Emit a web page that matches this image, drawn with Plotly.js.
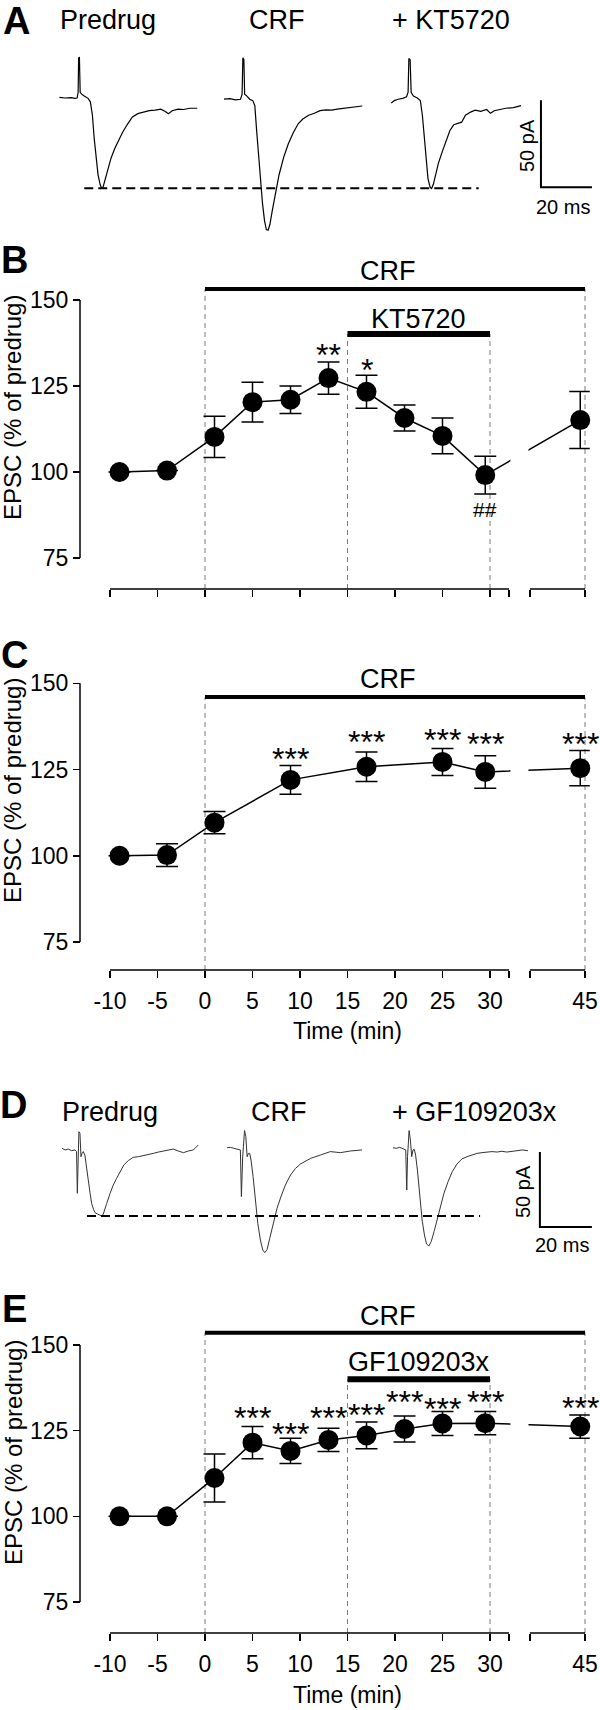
<!DOCTYPE html>
<html>
<head>
<meta charset="utf-8">
<script src="https://cdn.plot.ly/plotly-3.0.1.min.js"></script>
<style>
html,body{margin:0;padding:0;background:#fff;}
#chart{width:600px;height:1710px;}
</style>
</head>
<body>
<div id="chart"></div>
<script>
// ---------------- DATA ----------------
// Panel B: CRF then KT5720
const timeB = [-9, -4, 1, 5, 9, 13, 17, 21, 25, 29.5, 44.5];
const meanB = [100, 100.4, 110.2, 120.3, 121, 127.3, 123.3, 115.7, 110.5, 99.1, 115.1];
const semB  = [null, null, 6, 5.8, 4, 4.7, 4.8, 3.8, 5.2, 5.5, 8.3];
const starTimeB = [13, 17];
const starLevelB = [136, 131.7];
const starTextB = ['**', '*'];
const hashTimeB = [29.5];
const hashLevelB = [89];
const hashTextB = ['##'];

// Panel C: CRF alone
const timeC = [-9, -4, 1, 9, 17, 25, 29.5, 44.5];
const meanC = [100, 100.2, 109.6, 122, 125.8, 127.2, 124.3, 125.4];
const semC  = [null, 3.3, 3.2, 4.2, 4.3, 3.9, 4.7, 5.1];
const starTimeC = [9, 17, 25, 29.5, 44.5];
const starLevelC = [130.1, 135, 135.6, 134.4, 134.4];
const starTextC = ['***', '***', '***', '***', '***'];

// Panel E: CRF then GF109203x
const timeE = [-9, -4, 1, 5, 9, 13, 17, 21, 25, 29.5, 44.5];
const meanE = [100, 100, 111.2, 121.5, 119.1, 122.3, 123.6, 125.5, 127.1, 127.2, 126.2];
const semE  = [null, null, 7, 4.7, 3.7, 3.4, 3.9, 3.8, 3.5, 3.4, 3.4];
const starTimeE = [5, 9, 13, 17, 21, 25, 29.5, 44.5];
const starLevelE = [130.6, 126.1, 130.6, 131.6, 135.4, 133.5, 135.4, 133.7];
const starTextE = ['***', '***', '***', '***', '***', '***', '***', '***'];

// drug application periods (min)
const crfPeriod = [0, 45];
const ktPeriod = [15, 30];
const gfPeriod = [15, 30];

// axis ticks
const xTickTimes = [-10, -5, 0, 5, 10, 15, 20, 25, 30, 45];
const xTickLabels = ['-10', '-5', '0', '5', '10', '15', '20', '25', '30', '45'];
const yTicks = [75, 100, 125, 150];

// Panel A sweeps (time ms from sweep start, current pA)
const predrugA_t = [0.15,2.4,4.7,6.2,7.1,7.5,7.7,8.0,8.3,8.9,9.9,11.4,12.3,13.1,13.8,14.6,15.3,16.1,16.7,17.3,18.0,18.9,20.4,21.9,23.4,24.9,26.7,28.7,30.9,33.2,35.4,37.7,39.9,41.7,42.9,44.4,46.7,48.9,51.2,54.2];
const predrugA_i = [0.4,0,0.2,-0.2,0,3.3,23,23.5,3.3,2.2,1.1,-0.2,-2.2,-9.9,-23.1,-35.2,-44,-49.6,-51.8,-51.1,-47.4,-42.3,-34.6,-28.9,-24,-19.8,-15.4,-11,-9,-8.1,-7.3,-7,-6.4,-7.7,-9,-7.3,-6.4,-6.6,-5.9,-5.9];
const crfA_t = [0,2.3,4.5,6.5,7.1,7.4,7.8,8.1,9.0,10.1,11.3,12.1,12.8,13.6,14.4,15.1,15.9,16.6,17.3,18.0,18.9,20.1,21.6,23.4,25.2,27.2,29.1,30.9,33.2,35.4,37.7,39.9,42.2,44.4,47.4,50.5,54.2];
const crfA_i = [-0.7,-0.4,-1.1,-0.7,2.2,23.1,22,2.2,1.1,-0.7,-1.5,-4.4,-18.7,-34.1,-47.4,-60.6,-70.5,-75.6,-76,-72.7,-65,-55.1,-44.1,-34.1,-26.4,-19.8,-14.8,-12.1,-9.9,-8.8,-7.3,-6.8,-7,-6.4,-5.9,-5.3,-4.6];
const ktA_t = [0.3,1.5,3.0,4.8,6.3,6.9,7.2,7.7,8.1,9.0,10.5,11.7,12.5,13.2,14.0,14.7,15.5,16.1,16.8,17.7,18.8,20.3,21.8,23.3,24.8,26.3,27.9,29.4,31.4,33.2,35.4,37.7,39.2,40.7,43.0,45.2,48.2,51.2];
const ktA_i = [-2.9,-1.5,-0.7,-0.2,0.7,3.3,22.7,22,3.3,1.1,0,-1.5,-9.9,-23.1,-36.3,-46.3,-51.1,-52.2,-49.6,-44,-37.4,-30.8,-25.3,-18.7,-15.4,-14.8,-13.9,-9.9,-8.1,-7,-7.7,-6.6,-8.8,-7.3,-6.6,-5.9,-5.5,-4.4];

// Panel D sweeps
const predrugD_t = [0,1.2,2.4,3.7,5.0,5.6,5.9,6.2,6.5,6.9,7.3,7.7,8.2,8.8,9.5,10.1,10.8,11.4,12.1,12.7,13.6,14.6,15.3,15.9,16.5,17.2,18.5,19.7,21.0,22.3,23.8,25.5,27.4,29.4,31.3,33.2,35.1,37.1,39.0,40.9,42.8,44.7,46.7,48.6,50.5,52.4];
const predrugD_i = [-0.2,-1.3,-0.7,-1.8,-1.3,-2.4,-30.2,-5.8,10.9,9.8,-5.8,-3.6,-2.4,-4.7,-12.4,-21.3,-30.2,-36.9,-40.9,-43.1,-44,-44.7,-45.3,-44,-41.3,-36.9,-30.2,-24.7,-20.2,-15.8,-11.3,-8.4,-6.2,-5.8,-4.9,-4.2,-3.6,-2.7,-2,-0.9,-0.7,-2,-3.1,-2,-1.3,2];
const crfD_t = [0,1.3,2.6,4.1,5.1,5.5,6.0,6.7,7.2,7.7,8.2,8.7,9.2,10.0,10.9,11.8,12.8,13.7,14.5,15.4,16.4,17.7,19.2,20.8,22.4,24.4,26.3,28.2,32.1,35.9,39.7,43.6,47.4,51.9];
const crfD_i = [0.2,0.4,-0.2,-0.9,-1.3,-32.4,-5.8,11.6,7.6,-5.8,-3.6,-3.6,-8,-19.1,-34.7,-50.2,-61.3,-68,-69.8,-67.6,-60.2,-50.2,-40.2,-32,-24.7,-18,-13.6,-10.7,-6.9,-4.7,-2.4,-3.1,-2,-1.3];
const gfD_t = [0,1.3,2.6,4.1,4.9,5.3,5.6,6.2,6.7,7.2,7.7,8.2,8.7,9.4,10.3,11.2,12.1,12.9,13.8,14.7,15.8,16.9,18.2,19.6,21.2,22.8,24.6,26.5,28.5,30.4,32.3,34.2,36.2,38.1,40.0,41.9,43.8,45.8,47.7,49.7,51.9];
const gfD_i = [0.2,-0.2,0.4,-0.9,-1.3,-28,-5.8,11.6,5.3,-5.8,-1.3,-0.9,-4.7,-14.7,-32.4,-48,-58,-64,-65.3,-62.4,-55.8,-48,-39.1,-30.2,-22.4,-15.8,-10.7,-7.3,-5.8,-4.7,-3.6,-3.1,-2.7,-2.4,-2.7,-2.2,-2.7,-2,-1.8,-1.3,-1.8];

// scale bar sizes
const scaleBarMs = 20;
const scaleBarPA = 50;

// ---------------- LAYOUT HELPERS ----------------
const W = 600, H = 1710;
const FONT = "'Liberation Sans', Arial, Helvetica, sans-serif";
const px = v => v / W;
const py = v => 1 - v / H;

// broken time axis: 32 ... 39.2 is cut out
const BREAK_AT = 32, RESUME_AT = 39.2, BREAK_SHIFT = 5;
const disp = t => (t > BREAK_AT ? t - BREAK_SHIFT : t);

const X_DOMAIN_PX = [105.25, 589.75];
const X_RANGE = [-10.5, 40.5];
const Y_AXIS_PX = 80;

const traces = [];
const shapes = [];
const annotations = [];
const layout = {
  width: W, height: H,
  margin: {l: 0, r: 0, t: 0, b: 0, pad: 0},
  paper_bgcolor: '#fff', plot_bgcolor: 'rgba(0,0,0,0)',
  showlegend: false,
  font: {family: FONT, color: '#000', size: 23}
};

function txt(text, x, y, size, opts) {
  return Object.assign({text: text, x: x, y: y, xref: 'paper', yref: 'paper',
    showarrow: false, xanchor: 'center', yanchor: 'middle',
    font: {family: FONT, size: size, color: '#000'}}, opts || {});
}

// ---------------- TIME-COURSE PANELS ----------------
const timePanels = [
  {n: 2, time: timeB, mean: meanB, sem: semB, px150: 300, px75: 558, pxAxis: 589, top: 160,
   showLabels: false, crfLevel: 153.2, crfLabelY: 158.4, titleY: 408,
   inhib: {period: ktPeriod, level: 140.1, label: 'KT5720', labelY: 144.6},
   stars: [[starTimeB, starLevelB, starTextB, 32, -7], [hashTimeB, hashLevelB, hashTextB, 21, 0]]},
  {n: 3, time: timeC, mean: meanC, sem: semC, px150: 683.3, px75: 942, pxAxis: 970, top: 158,
   showLabels: true, crfLevel: 146, crfLabelY: 151.2, titleY: 791, xTitleY: 1031,
   inhib: null,
   stars: [[starTimeC, starLevelC, starTextC, 32, -7]]},
  {n: 5, time: timeE, mean: meanE, sem: semE, px150: 1345, px75: 1602, pxAxis: 1633, top: 162,
   showLabels: true, crfLevel: 153.6, crfLabelY: 158.6, titleY: 1453, xTitleY: 1695,
   inhib: {period: gfPeriod, level: 140, label: 'GF109203x', labelY: 144.9},
   stars: [[starTimeE, starLevelE, starTextE, 32, -7]]}
];

const tickVals = xTickTimes.filter(t => t <= BREAK_AT).concat([BREAK_AT, RESUME_AT], xTickTimes.filter(t => t > BREAK_AT)).map(disp);
const tickText = xTickLabels.filter((_, i) => xTickTimes[i] <= BREAK_AT).concat(['', ''], xTickLabels.filter((_, i) => xTickTimes[i] > BREAK_AT));

timePanels.forEach(p => {
  const xa = 'x' + p.n, ya = 'y' + p.n;
  const scale = (p.px75 - p.px150) / 75;
  const bottom = 75 - (p.pxAxis - p.px75) / scale;
  const topPx = p.px150 - (p.top - 150) * scale;

  layout['xaxis' + p.n] = {
    domain: [px(X_DOMAIN_PX[0]), px(X_DOMAIN_PX[1])], range: X_RANGE, anchor: ya,
    showline: false, ticks: 'outside', ticklen: 7, tickwidth: 1.5, tickcolor: '#000',
    tickmode: 'array', tickvals: tickVals, ticktext: tickText,
    showticklabels: p.showLabels, tickfont: {family: FONT, size: 23, color: '#000'},
    ticklabelstandoff: 3,
    showgrid: false, zeroline: false, fixedrange: true
  };
  layout['yaxis' + p.n] = {
    domain: [py(p.pxAxis), py(topPx)], range: [bottom, p.top], anchor: 'free', position: px(Y_AXIS_PX),
    showline: false, ticks: 'outside', ticklen: 7, tickwidth: 1.5, tickcolor: '#000',
    tickmode: 'array', tickvals: yTicks, tickfont: {family: FONT, size: 23, color: '#000'},
    showgrid: false, zeroline: false, fixedrange: true
  };

  traces.push({
    type: 'scatter', mode: 'lines+markers', xaxis: xa, yaxis: ya,
    x: p.time.map(disp), y: p.mean,
    line: {color: '#000', width: 1.5},
    marker: {color: '#000', size: 20},
    error_y: {type: 'data', array: p.sem, visible: true, color: '#000', thickness: 1.5, width: 11},
    cliponaxis: false, hoverinfo: 'skip'
  });

  // y axis line (between first and last tick)
  shapes.push({type: 'line', xref: 'paper', yref: ya, x0: px(Y_AXIS_PX), x1: px(Y_AXIS_PX),
    y0: yTicks[0], y1: yTicks[yTicks.length - 1], line: {color: '#000', width: 1.5}});
  // broken x axis line segments
  const yAx = py(p.pxAxis);
  shapes.push({type: 'line', xref: xa, yref: 'paper', x0: disp(xTickTimes[0]), x1: disp(BREAK_AT),
    y0: yAx, y1: yAx, line: {color: '#000', width: 1.5}});
  shapes.push({type: 'line', xref: xa, yref: 'paper', x0: disp(RESUME_AT), x1: disp(xTickTimes[xTickTimes.length - 1]),
    y0: yAx, y1: yAx, line: {color: '#000', width: 1.5}});
  // blank the data line across the axis break
  shapes.push({type: 'rect', xref: xa, yref: 'paper', x0: disp(BREAK_AT) + 0.15, x1: disp(RESUME_AT) - 0.15,
    y0: py(p.pxAxis - 3), y1: py(p.px150 - 4), fillcolor: '#fff', line: {width: 0}, layer: 'above'});

  // CRF bar + dashed guides
  const dashLine = {color: '#7a7a7a', width: 1, dash: '5px,4px'};
  shapes.push({type: 'line', xref: xa, yref: ya, x0: disp(crfPeriod[0]), x1: disp(crfPeriod[1]),
    y0: p.crfLevel, y1: p.crfLevel, line: {color: '#000', width: 4}});
  crfPeriod.forEach(t => shapes.push({type: 'line', xref: xa, yref: ya, x0: disp(t), x1: disp(t),
    y0: bottom, y1: p.crfLevel, line: dashLine, layer: 'below'}));
  annotations.push({text: 'CRF', xref: xa, yref: ya, x: 19.3, y: p.crfLabelY, showarrow: false,
    font: {family: FONT, size: 27, color: '#000'}});

  if (p.inhib) {
    const q = p.inhib;
    shapes.push({type: 'line', xref: xa, yref: ya, x0: disp(q.period[0]), x1: disp(q.period[1]),
      y0: q.level, y1: q.level, line: {color: '#000', width: 6}});
    q.period.forEach(t => shapes.push({type: 'line', xref: xa, yref: ya, x0: disp(t), x1: disp(t),
      y0: bottom, y1: q.level, line: dashLine, layer: 'below'}));
    annotations.push({text: q.label, xref: xa, yref: ya, x: (disp(q.period[0]) + disp(q.period[1])) / 2,
      y: q.labelY, showarrow: false, font: {family: FONT, size: 27, color: '#000'}});
  }

  p.stars.forEach(([ts, ls, tx, size, shift]) => {
    ts.forEach((t, i) => annotations.push({text: tx[i], xref: xa, yref: ya, x: disp(t), y: ls[i],
      showarrow: false, yshift: shift, font: {family: FONT, size: size, color: '#000'}}));
  });

  annotations.push(txt('EPSC (% of predrug)', px(13), py(p.titleY), 24, {textangle: -90}));
  if (p.xTitleY) annotations.push(txt('Time (min)', px((X_DOMAIN_PX[0] + X_DOMAIN_PX[1]) / 2), py(p.xTitleY), 23));
});

// ---------------- SWEEP PANELS (A, D) ----------------
const sweepPanels = [
  {n: '', pxTop: 40, pxBottom: 240, pxZeroX: 59, pxZeroY: 98, pxPerMs: 2.55, pxPerPA: 1.74,
   sweeps: [[predrugA_t, predrugA_i], [crfA_t, crfA_i], [ktA_t, ktA_i]], offsets: [0, 64.7, 130],
   scaleCorner: [189, -51.3], dashX: [9.9, 164.6], color: '#000', width: 1.2,
   labels: [['Predrug', 108], ['CRF', 277], ['+ KT5720', 451]], labelY: 19.5,
   barText: [[527, 146], [563, 207]]},
  {n: 4, pxTop: 1118, pxBottom: 1290, pxZeroX: 62, pxZeroY: 1148, pxPerMs: 2.6, pxPerPA: 1.5,
   sweeps: [[predrugD_t, predrugD_i], [crfD_t, crfD_i], [gfD_t, gfD_i]], offsets: [0, 63.5, 127.3],
   scaleCorner: [183.8, -52.7], dashX: [9.6, 160.8], color: '#333', width: 1,
   labels: [['Predrug', 109.5], ['CRF', 279], ['+ GF109203x', 474.5]], labelY: 1112,
   barText: [[523, 1192], [562, 1245]]}
];

sweepPanels.forEach(p => {
  const xa = 'x' + p.n, ya = 'y' + p.n;
  layout['xaxis' + p.n] = {domain: [0, 1], range: [-p.pxZeroX / p.pxPerMs, (W - p.pxZeroX) / p.pxPerMs],
    anchor: ya, visible: false, fixedrange: true};
  layout['yaxis' + p.n] = {domain: [py(p.pxBottom), py(p.pxTop)],
    range: [(p.pxZeroY - p.pxBottom) / p.pxPerPA, (p.pxZeroY - p.pxTop) / p.pxPerPA],
    anchor: xa, visible: false, fixedrange: true};

  p.sweeps.forEach(([t, i], k) => traces.push({
    type: 'scatter', mode: 'lines', xaxis: xa, yaxis: ya,
    x: t.map(v => v + p.offsets[k]), y: i,
    line: {color: p.color, width: p.width}, hoverinfo: 'skip'
  }));
  const peak = Math.min.apply(null, p.sweeps[0][1]);
  traces.push({type: 'scatter', mode: 'lines', xaxis: xa, yaxis: ya,
    x: p.dashX, y: [peak, peak], line: {color: '#000', width: 2, dash: '9px,5px'}, hoverinfo: 'skip'});
  const c = p.scaleCorner;
  traces.push({type: 'scatter', mode: 'lines', xaxis: xa, yaxis: ya,
    x: [c[0], c[0], c[0] + scaleBarMs], y: [c[1] + scaleBarPA, c[1], c[1]],
    line: {color: '#000', width: 2}, hoverinfo: 'skip'});

  p.labels.forEach(([s, x]) => annotations.push(txt(s, px(x), py(p.labelY), 27)));
  annotations.push(txt(scaleBarPA + ' pA', px(p.barText[0][0]), py(p.barText[0][1]), 20, {textangle: -90}));
  annotations.push(txt(scaleBarMs + ' ms', px(p.barText[1][0]), py(p.barText[1][1]), 20));
});

// panel letters
[['A', 16, 21], ['B', 14, 260], ['C', 14, 655], ['D', 13, 1105], ['E', 14, 1309]].forEach(([s, x, y]) =>
  annotations.push(txt('<b>' + s + '</b>', px(x), py(y), 38)));

layout.shapes = shapes;
layout.annotations = annotations;

Plotly.newPlot('chart', traces, layout, {staticPlot: true, displayModeBar: false});
</script>
</body>
</html>
